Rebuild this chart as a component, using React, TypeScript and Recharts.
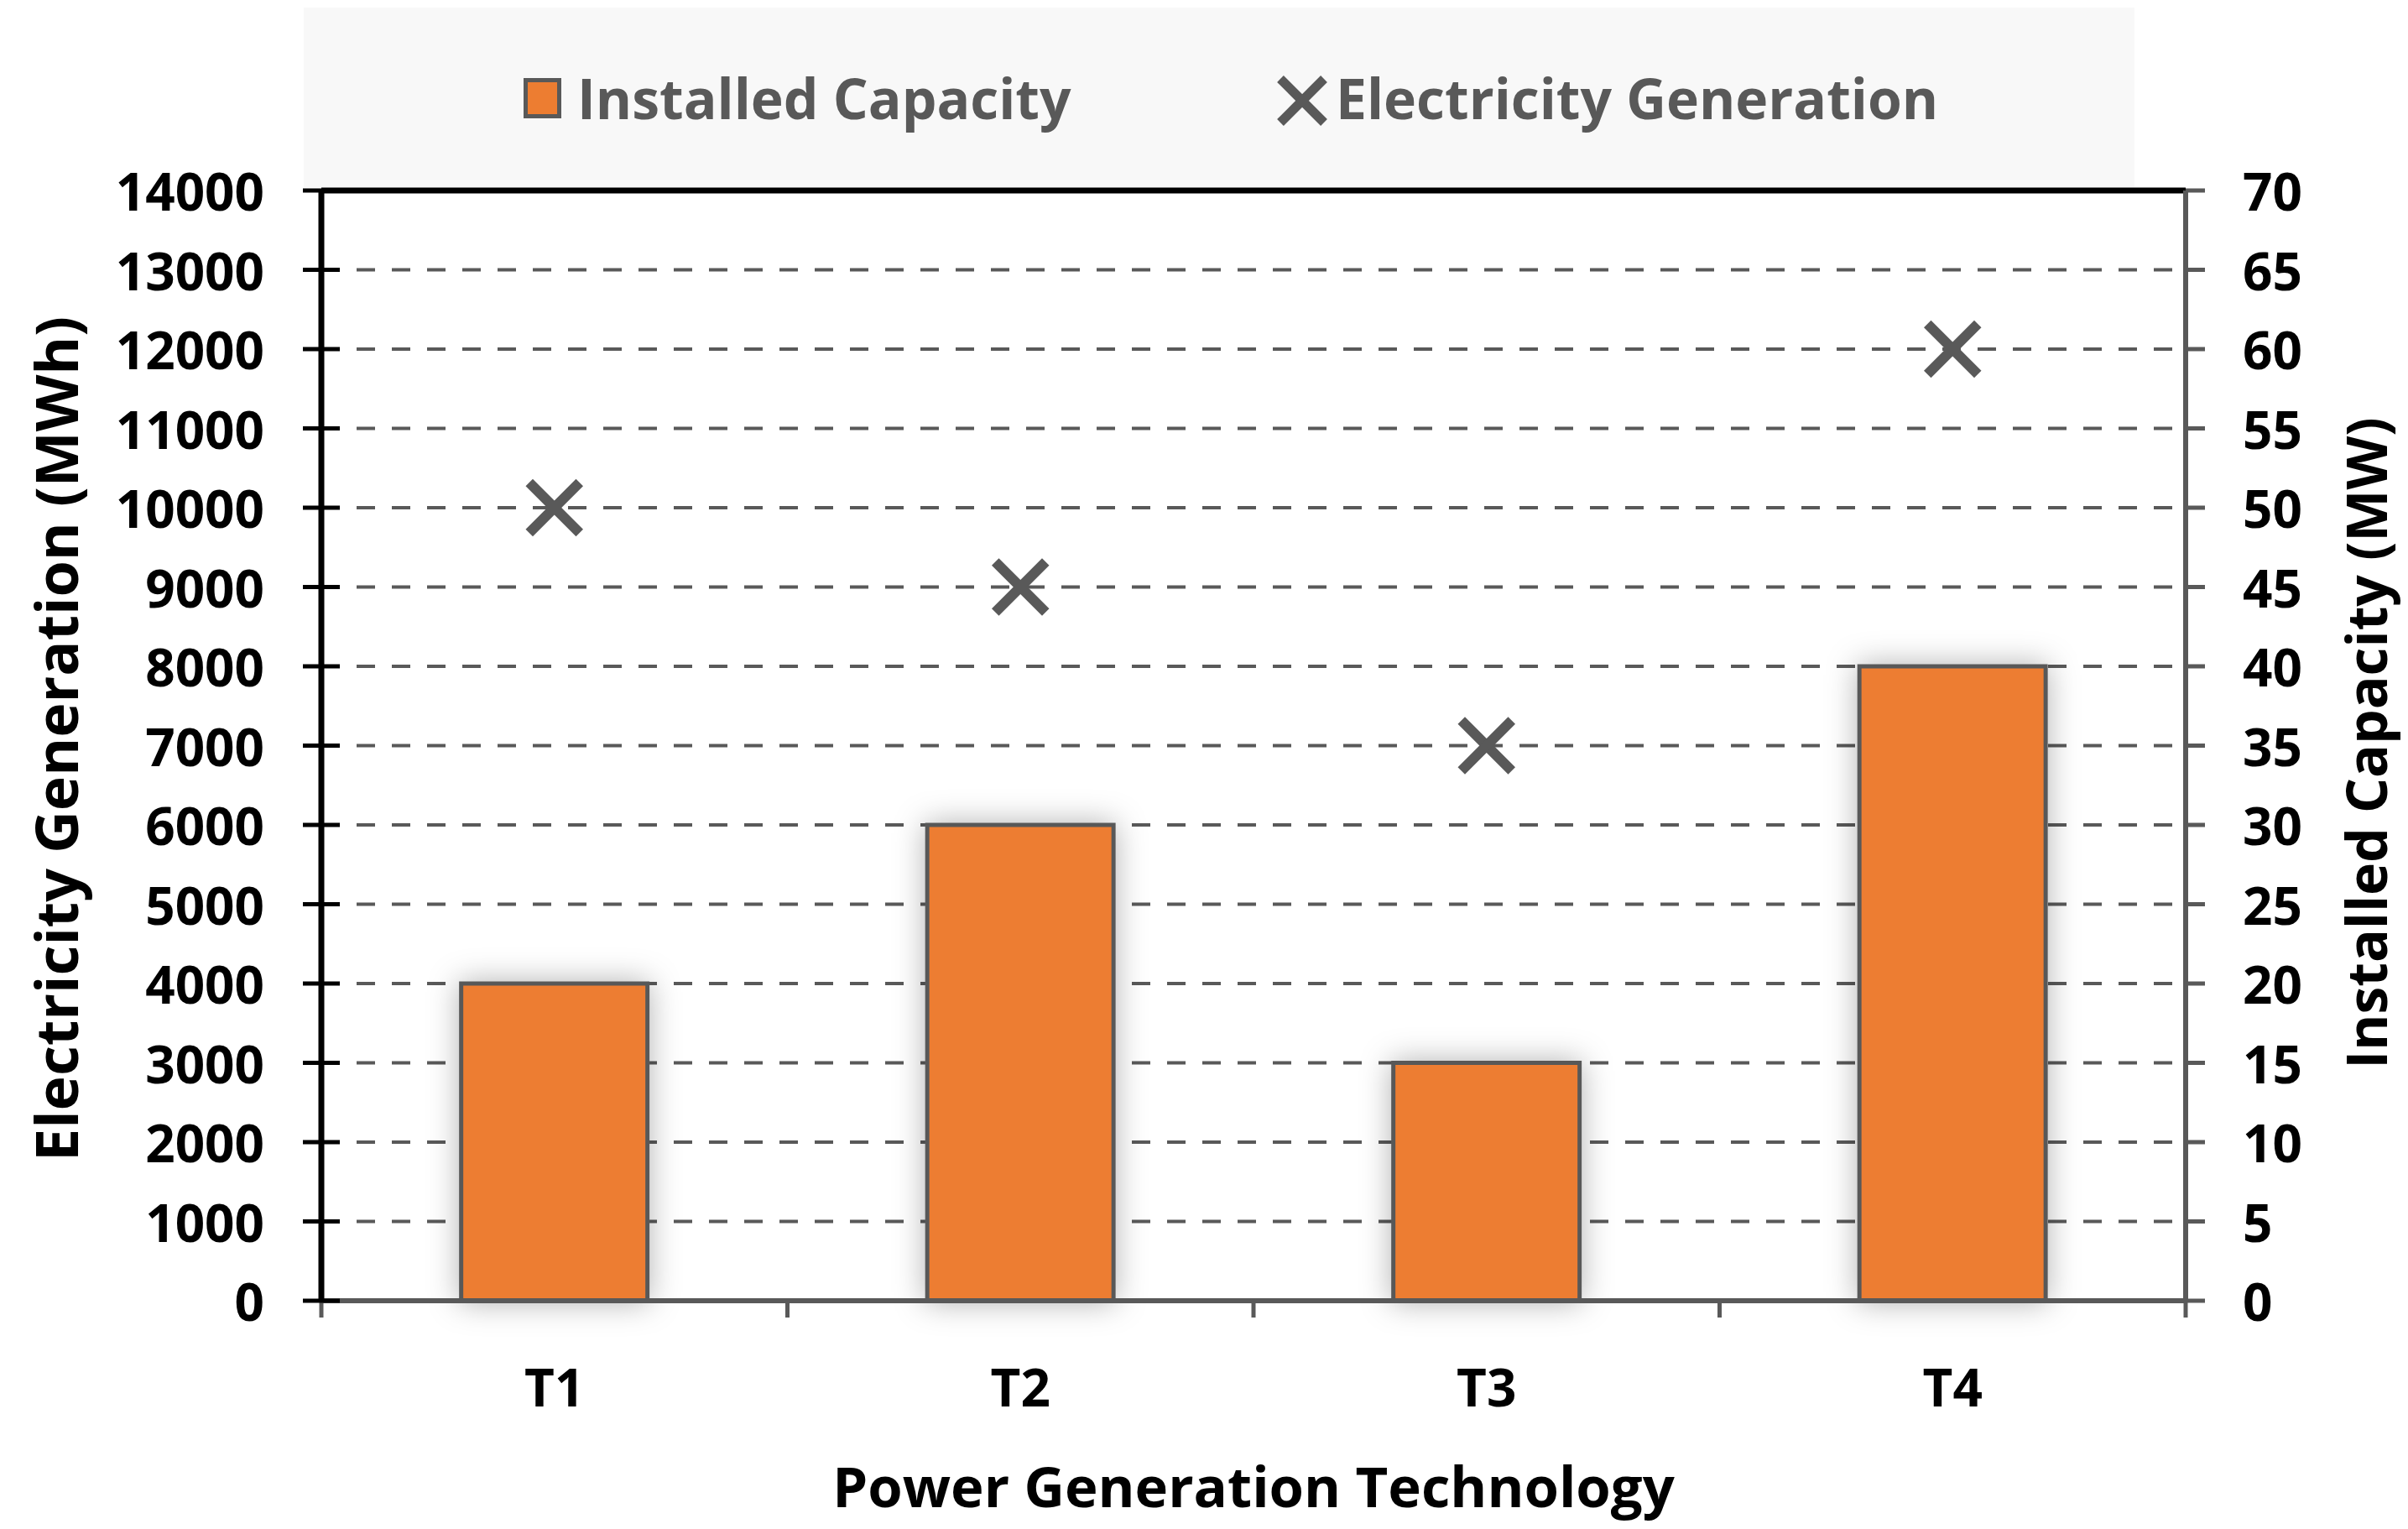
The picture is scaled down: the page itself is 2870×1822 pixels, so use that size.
import React from "react";
import {
  Bar,
  CartesianGrid,
  ComposedChart,
  Line,
  ReferenceLine,
  XAxis,
  YAxis,
} from "recharts";

const categories = ["T1", "T2", "T3", "T4"];
const installedCapacity = [20, 30, 15, 40];
const electricityGeneration = [10000, 9000, 7000, 12000];
const leftTicks = [0, 1000, 2000, 3000, 4000, 5000, 6000, 7000, 8000, 9000, 10000, 11000, 12000, 13000, 14000];
const rightTicks = [0, 5, 10, 15, 20, 25, 30, 35, 40, 45, 50, 55, 60, 65, 70];

const data = categories.map((name, i) => ({
  name,
  capacity: installedCapacity[i],
  generation: electricityGeneration[i],
}));

const FONT = "'Open Sans', 'DejaVu Sans', sans-serif";
const GRAY = "#595959";
const ORANGE = "#ED7D31";

const LeftTick = (props: any) => {
  const { x, y, payload } = props;
  return (
    <g>
      <line x1={x - 22} x2={x + 22} y1={y} y2={y} stroke="#000" strokeWidth={5} />
      <text x={x - 68} y={y} textAnchor="end" dominantBaseline="central" fontFamily={FONT} fontWeight={700} fontSize={62} fill="#000">
        {payload.value}
      </text>
    </g>
  );
};

const RightTick = (props: any) => {
  const { x, y, payload } = props;
  return (
    <g>
      <line x1={x} x2={x + 23} y1={y} y2={y} stroke={GRAY} strokeWidth={5} />
      <text x={x + 68} y={y} textAnchor="start" dominantBaseline="central" fontFamily={FONT} fontWeight={700} fontSize={62} fill="#000">
        {payload.value}
      </text>
    </g>
  );
};

const BottomTick = (props: any) => {
  const { x, y, payload, index, width, visibleTicksCount } = props;
  const band = width / visibleTicksCount;
  return (
    <g>
      <line x1={x - band / 2} x2={x - band / 2} y1={y} y2={y + 20} stroke={GRAY} strokeWidth={5} />
      {index === visibleTicksCount - 1 && (
        <line x1={x + band / 2} x2={x + band / 2} y1={y} y2={y + 20} stroke={GRAY} strokeWidth={5} />
      )}
      <text x={x} y={y + 102} textAnchor="middle" dominantBaseline="central" fontFamily={FONT} fontWeight={700} fontSize={62} fill="#000">
        {payload.value}
      </text>
    </g>
  );
};

const XMarker = (props: any) => {
  const { cx, cy } = props;
  if (cx == null || cy == null) return null;
  const s = 30;
  return (
    <g>
      <line x1={cx - s} y1={cy - s} x2={cx + s} y2={cy + s} stroke={GRAY} strokeWidth={12} />
      <line x1={cx - s} y1={cy + s} x2={cx + s} y2={cy - s} stroke={GRAY} strokeWidth={12} />
    </g>
  );
};

const ShadowBar = (props: any) => {
  const { x, y, width, height } = props;
  return (
    <rect x={x} y={y} width={width} height={height} fill={ORANGE} stroke={GRAY} strokeWidth={5} filter="url(#barGlow)" />
  );
};

const axisTitle = (text: string, size: number, dx: number, dy: number, rotate: boolean) => (props: any) => {
  const vb = props.viewBox;
  const cx = rotate ? vb.x + dx : vb.x + vb.width / 2 + dx;
  const cy = rotate ? vb.y + vb.height / 2 + dy : vb.y + dy;
  return (
    <text
      x={cx}
      y={cy}
      textAnchor="middle"
      dominantBaseline="central"
      transform={rotate ? `rotate(-90, ${cx}, ${cy})` : undefined}
      fontFamily={FONT}
      fontWeight={700}
      fontSize={size}
      fill="#000"
    >
      {text}
    </text>
  );
};

const legendText = {
  position: "absolute" as const,
  top: 78,
  height: 76,
  lineHeight: "76px",
  fontFamily: FONT,
  fontWeight: 700,
  fontSize: 66,
  color: GRAY,
  whiteSpace: "nowrap" as const,
};

export default function App() {
  return (
    <div style={{ position: "absolute", left: 0, top: 0, width: 2870, height: 1822, background: "#fff" }}>
      <div
        style={{
          position: "absolute",
          left: 362,
          top: 9,
          width: 2182,
          height: 214,
          background: "#f8f8f8",
        }}
      />
      <div
        style={{
          position: "absolute",
          left: 624,
          top: 93,
          width: 45,
          height: 48,
          boxSizing: "border-box",
          background: ORANGE,
          border: `5px solid ${GRAY}`,
        }}
      />
      <div style={{ ...legendText, left: 688 }}>Installed Capacity</div>
      <svg style={{ position: "absolute", left: 1520, top: 88 }} width={64} height={64}>
        <line x1={6} y1={6} x2={58} y2={58} stroke={GRAY} strokeWidth={11} />
        <line x1={6} y1={58} x2={58} y2={6} stroke={GRAY} strokeWidth={11} />
      </svg>
      <div style={{ ...legendText, left: 1592 }}>Electricity Generation</div>
      <div style={{ position: "absolute", left: 0, top: 0 }}>
        <ComposedChart
          width={2870}
          height={1822}
          data={data}
          margin={{ top: 227, right: 0, bottom: 0, left: 0 }}
          barCategoryGap="30%"
        >
          <defs>
            <filter id="barGlow" x="-40%" y="-20%" width="180%" height="140%">
              <feDropShadow dx={0} dy={0} stdDeviation={18} floodColor="#000" floodOpacity={0.3} />
            </filter>
          </defs>
          <CartesianGrid
            yAxisId="left"
            vertical={false}
            horizontalValues={leftTicks}
            stroke={GRAY}
            strokeWidth={4}
            strokeDasharray="22 20"
          />
          <XAxis
            dataKey="name"
            height={272}
            stroke={GRAY}
            strokeWidth={6}
            tickLine={false}
            tickSize={0}
            tickMargin={0}
            tick={<BottomTick />}
            interval={0}
            label={{ content: axisTitle("Power Generation Technology", 67, 0, 220, false) }}
          />
          <YAxis
            yAxisId="left"
            orientation="left"
            width={383}
            domain={[0, 14000]}
            ticks={leftTicks}
            interval={0}
            stroke="#000"
            strokeWidth={7}
            tickLine={false}
            tickSize={0}
            tickMargin={0}
            tick={<LeftTick />}
            label={{ content: axisTitle("Electricity Generation (MWh)", 70, 66, -8, true) }}
          />
          <YAxis
            yAxisId="right"
            orientation="right"
            width={265}
            domain={[0, 70]}
            ticks={rightTicks}
            interval={0}
            stroke={GRAY}
            strokeWidth={6}
            tickLine={false}
            tickSize={0}
            tickMargin={0}
            tick={<RightTick />}
            label={{ content: axisTitle("Installed Capacity (MW)", 66, 214, -3, true) }}
          />
          <Bar
            yAxisId="right"
            dataKey="capacity"
            name="Installed Capacity"
            shape={<ShadowBar />}
            isAnimationActive={false}
          />
          <Line
            yAxisId="left"
            dataKey="generation"
            name="Electricity Generation"
            stroke="none"
            dot={<XMarker />}
            activeDot={false}
            isAnimationActive={false}
          />
          <ReferenceLine yAxisId="left" y={14000} stroke="#000" strokeWidth={7} />
        </ComposedChart>
      </div>
    </div>
  );
}
